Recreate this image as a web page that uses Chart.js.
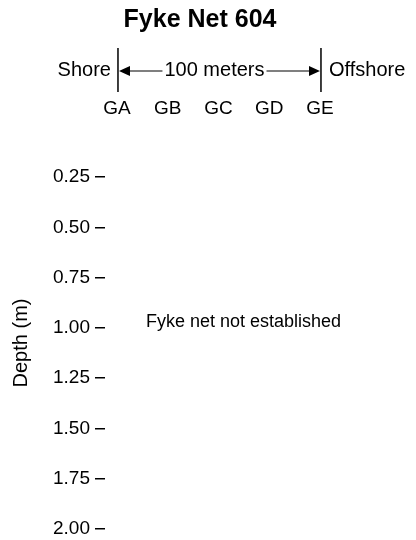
<!DOCTYPE html>
<html>
<head>
<meta charset="utf-8">
<script src="https://cdn.jsdelivr.net/npm/chart.js@4.4.0/dist/chart.umd.min.js"></script>
<style>
    body { margin: 0; background: #fff; }
</style>
</head>
<body>
<canvas id="fykeCanvas" width="416" height="540"></canvas>
<script>
// Stations along the transect, shore -> offshore.
var stations = ['GA', 'GB', 'GC', 'GD', 'GE'];
var stationPos = [0, 1, 2, 3, 4];

// Depth ticks (m), drawn top to bottom.
var depthTicks = [0.25, 0.50, 0.75, 1.00, 1.25, 1.50, 1.75, 2.00];
var depthLabels = ['0.25', '0.50', '0.75', '1.00', '1.25', '1.50', '1.75', '2.00'];

// Nothing caught: the net was never set at this site.
var catchPoints = [];
var noteText = 'Fyke net not established';
var noteDepth = 1.00;
var noteStation = 0.57;

var FONT = '"Liberation Sans", Arial, Helvetica, sans-serif';

// Draw the shore/offshore bar, the y title and the note.
var annotate = {
    id: 'annotate',
    afterDraw: function (chart) {
        var ctx = chart.ctx;
        var xs = chart.scales.x, ys = chart.scales.y;
        var xa = xs.getPixelForValue(stationPos[0]);
        var xe = xs.getPixelForValue(stationPos[stationPos.length - 1]);
        var rowY = 71;

        ctx.save();
        ctx.strokeStyle = '#000';
        ctx.fillStyle = '#000';
        ctx.lineWidth = 1.5;

        // end markers
        ctx.beginPath();
        ctx.moveTo(xa + 1, 48); ctx.lineTo(xa + 1, 92);
        ctx.moveTo(xe + 1, 48); ctx.lineTo(xe + 1, 92);
        ctx.stroke();

        ctx.font = '20px ' + FONT;
        ctx.textBaseline = 'middle';
        ctx.textAlign = 'right';
        ctx.fillText('Shore', xa - 6, rowY - 1);
        ctx.textAlign = 'left';
        ctx.fillText('Offshore', xe + 9, rowY - 1);

        var mid = (xa + xe) / 2 - 4;
        var label = '100 meters';
        var w = ctx.measureText(label).width;
        ctx.textAlign = 'center';
        ctx.fillText(label, mid, rowY - 1);

        ctx.lineWidth = 1.2;
        ctx.beginPath();
        ctx.moveTo(xa + 10, rowY); ctx.lineTo(mid - w / 2 - 2, rowY);
        ctx.moveTo(mid + w / 2 + 2, rowY); ctx.lineTo(xe - 8, rowY);
        ctx.stroke();

        // arrow heads
        ctx.beginPath();
        ctx.moveTo(xa + 2, rowY); ctx.lineTo(xa + 13, rowY - 5); ctx.lineTo(xa + 13, rowY + 5);
        ctx.closePath();
        ctx.fill();
        ctx.beginPath();
        ctx.moveTo(xe, rowY); ctx.lineTo(xe - 11, rowY - 5); ctx.lineTo(xe - 11, rowY + 5);
        ctx.closePath();
        ctx.fill();

        // y axis title
        ctx.save();
        ctx.translate(21, 343);
        ctx.rotate(-Math.PI / 2);
        ctx.font = '20px ' + FONT;
        ctx.textAlign = 'center';
        ctx.textBaseline = 'middle';
        ctx.fillText('Depth (m)', 0, 0);
        ctx.restore();

        // note in the plot
        ctx.font = '18px ' + FONT;
        ctx.textAlign = 'left';
        ctx.textBaseline = 'middle';
        ctx.fillText(noteText, xs.getPixelForValue(noteStation), ys.getPixelForValue(noteDepth) - 6);

        ctx.restore();
    }
};

var ctx = document.getElementById('fykeCanvas').getContext('2d');
var chart = new Chart(ctx, {
    type: 'scatter',
    data: {
        datasets: [{
            label: 'Catch',
            data: catchPoints,
            backgroundColor: '#000'
        }]
    },
    options: {
        responsive: false,
        animation: false,
        devicePixelRatio: 1,
        layout: { padding: { top: 0, left: 0, right: 16, bottom: 11 } },
        plugins: {
            legend: { display: false },
            tooltip: { enabled: false },
            title: {
                display: true,
                text: 'Fyke Net 604',
                color: '#000',
                font: { family: FONT, size: 25, weight: 'bold' },
                padding: { top: 5, bottom: 55 }
            }
        },
        scales: {
            x: {
                type: 'linear',
                position: 'top',
                min: -0.236,
                max: 5.577,
                grid: { display: false, drawTicks: false },
                border: { display: false },
                afterBuildTicks: function (scale) {
                    scale.ticks = stationPos.map(function (v) { return { value: v }; });
                },
                ticks: {
                    color: '#000',
                    padding: 7,
                    maxRotation: 0,
                    font: { family: FONT, size: 19 },
                    callback: function (value, index) { return stations[index]; }
                }
            },
            y: {
                reverse: true,
                min: 0,
                max: 2.0,
                grid: {
                    drawOnChartArea: false,
                    drawTicks: true,
                    tickLength: 10,
                    color: '#000',
                    lineWidth: 1.5
                },
                border: { display: false },
                afterBuildTicks: function (scale) {
                    scale.ticks = depthTicks.map(function (v) { return { value: v }; });
                },
                afterFit: function (scale) {
                    scale.width = 105;
                    scale.paddingTop = 0;
                    scale.paddingBottom = 0;
                },
                ticks: {
                    color: '#000',
                    padding: 5,
                    font: { family: FONT, size: 19 },
                    callback: function (value, index) { return depthLabels[index]; }
                }
            }
        }
    },
    plugins: [annotate]
});
</script>
</body>
</html>
